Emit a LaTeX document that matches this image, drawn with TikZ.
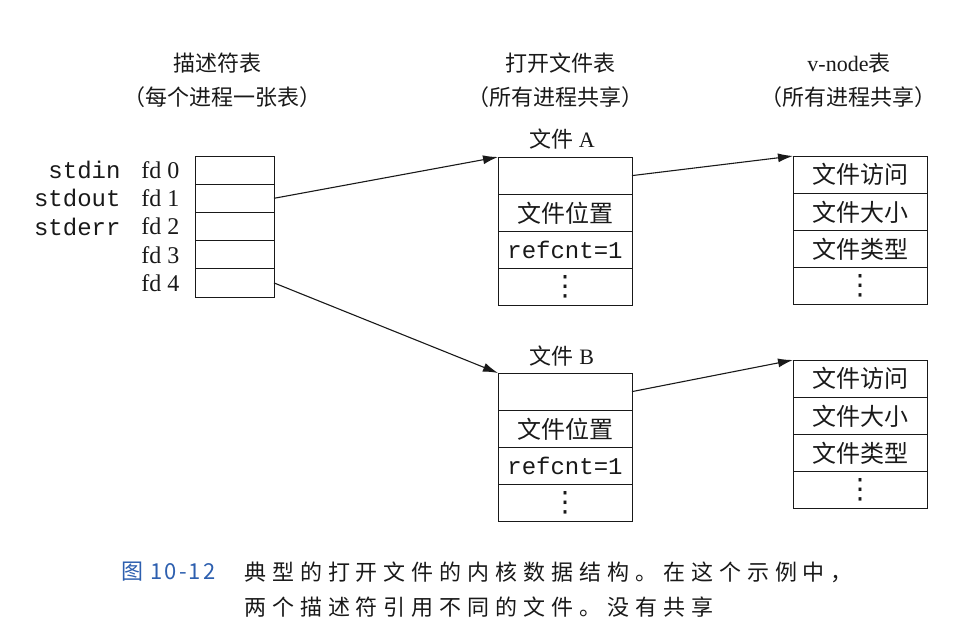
\documentclass[tikz,border=0pt]{standalone}
\usepackage{fontspec}
\setmainfont{Liberation Serif}
\setmonofont{Liberation Mono}
\newfontfamily\cjk{Noto Sans CJK SC}
\newfontfamily\cjkcap[LetterSpace=27]{Noto Sans CJK SC}
\newfontfamily\cjkfig[LetterSpace=10]{Noto Sans CJK SC}
\newfontfamily\symfont{DejaVu Sans}
\usetikzlibrary{arrows.meta}
\definecolor{capblue}{RGB}{45,95,175}
\definecolor{ink}{RGB}{25,25,25}
% vertical ellipsis for the "more fields" rows
\newcommand{\moredots}{{\symfont\fontsize{28}{28}\selectfont ⋮}}

\begin{document}
\begin{tikzpicture}[x=1pt,y=-1pt,
  every node/.style={text=ink},
  cell/.style={draw=ink, line width=0.9pt, anchor=north west, inner sep=0pt, outer sep=0pt},
  fdcell/.style={cell, minimum width=79pt, minimum height=28.2pt},
  tcell/.style={cell, minimum width=134pt, minimum height=37.2pt, font=\fontsize{24}{24}\cjk},
  monotext/.style={font=\fontsize{24}{24}\ttfamily},
  fdtext/.style={font=\fontsize{24}{24}\selectfont},
  hdr/.style={font=\fontsize{22}{22}\selectfont, inner sep=0pt},
  arr/.style={draw=ink, line width=1.1pt, -{Latex[length=15pt,width=9pt]}}
]
\useasboundingbox (0,0) rectangle (963,633);

% descriptor table
\foreach \i in {0,...,4}
  \node[fdcell] (d\i) at (195,{156+28.2*\i}) {};
\node[monotext, anchor=east] (sin)  at ([xshift=-71pt]d0.west) {stdin};
\node[monotext, anchor=east] (sout) at ([xshift=-71pt]d1.west) {stdout};
\node[monotext, anchor=east] (serr) at ([xshift=-71pt]d2.west) {stderr};
\foreach \i in {0,...,4}
  \node[fdtext, anchor=east] (fd\i) at ([xshift=-12pt]d\i.west) {fd \i};

% open file table, file A
\node[tcell] (fa0) at (498,157) {};
\node[tcell] (fa1) at (498,194.2) {文件位置};
\node[tcell, monotext] (fa2) at (498,231.4) {refcnt=1};
\node[tcell] (fa3) at (498,268.6) {\moredots};

% open file table, file B
\node[tcell] (fb0) at (498,373) {};
\node[tcell] (fb1) at (498,410.2) {文件位置};
\node[tcell, monotext] (fb2) at (498,447.4) {refcnt=1};
\node[tcell] (fb3) at (498,484.6) {\moredots};

% v-node tables
\node[tcell] (va0) at (793,156) {文件访问};
\node[tcell] (va1) at (793,193.2) {文件大小};
\node[tcell] (va2) at (793,230.4) {文件类型};
\node[tcell] (va3) at (793,267.6) {\moredots};

\node[tcell] (vb0) at (793,360) {文件访问};
\node[tcell] (vb1) at (793,397.2) {文件大小};
\node[tcell] (vb2) at (793,434.4) {文件类型};
\node[tcell] (vb3) at (793,471.6) {\moredots};

% headers
\node[hdr] (h1)  at (217,63) {\cjk 描述符表};
\node[hdr] (h1s) at (222,97) {\cjk （每个进程一张表）};
\node[hdr] (h2)  at (560,63) {\cjk 打开文件表};
\node[hdr] (h2s) at (555,97) {\cjk （所有进程共享）};
\node[hdr] (h3)  at (849,63) {v-node{\cjk 表}};
\node[hdr] (h3s) at (848,97) {\cjk （所有进程共享）};
\node[hdr] (la)  at (562,139) {{\cjk 文件} A};
\node[hdr] (lb)  at (562,356) {{\cjk 文件} B};

% pointers
\draw[arr] (d1.east) -- (fa0.north west);
\draw[arr] (d4.east) -- (fb0.north west);
\draw[arr] (fa0.east) -- (va0.north west);
\draw[arr] (fb0.east) -- (vb0.north west);

% caption
\node[anchor=west, inner sep=0pt, text=capblue, font=\fontsize{22}{22}\cjkfig] (fig) at (121,572) {图 10-12};
\node[anchor=west, inner sep=0pt, font=\fontsize{22}{22}\cjkcap] (cap1) at (244,572) {典型的打开文件的内核数据结构。在这个示例中，};
\node[anchor=west, inner sep=0pt, font=\fontsize{22}{22}\cjkcap] (cap2) at (244,607) {两个描述符引用不同的文件。没有共享};
\end{tikzpicture}
\end{document}
